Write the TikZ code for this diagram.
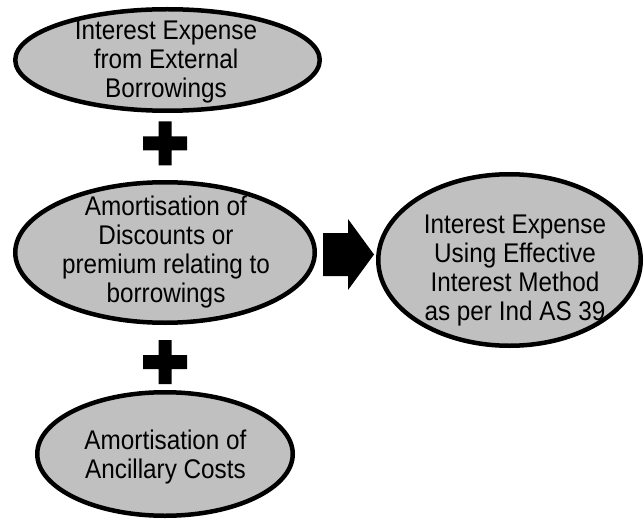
\documentclass[tikz,border=0pt]{standalone}
\usepackage{fontspec}
\setmainfont{Liberation Sans}[FakeStretch=0.9]
\usetikzlibrary{shapes.geometric}
\begin{document}
\begin{tikzpicture}[x=1pt,y=-1pt,
  oval/.style={ellipse, draw=black, line width=4.5pt, fill=ovalgray, inner sep=0pt},
  ovaltext/.style={align=center, inner sep=0pt, anchor=base, font=\fontsize{27}{29}\selectfont},
  plusmark/.style={fill=black},
  bigarrow/.style={fill=black}]
\definecolor{ovalgray}{RGB}{192,192,192}
\useasboundingbox (0,0) rectangle (644,521);
% ellipses
\node[oval, minimum width=304.5pt, minimum height=101.5pt] (e1) at (167.5,60) {};
\node[oval, minimum width=299.5pt, minimum height=140.5pt] (e2) at (165,252.5) {};
\node[oval, minimum width=262.5pt, minimum height=171.5pt] (e3) at (509.5,260) {};
\node[oval, minimum width=255.5pt, minimum height=123.5pt] (e4) at (165,454) {};
% texts
\node[ovaltext] (t1) at (166,97.5) {Interest Expense\\from External\\Borrowings};
\node[ovaltext] (t2) at (166,302) {Amortisation of\\Discounts or\\premium relating to\\borrowings};
\node[ovaltext] (t3) at (515,320) {Interest Expense\\Using Effective\\Interest Method\\as per Ind AS 39};
\node[ovaltext] (t4) at (165.5,478) {Amortisation of\\Ancillary Costs};
% plus signs
\coordinate (p1) at (165,143.5);
\coordinate (p2) at (165,362);
\foreach \p in {p1,p2}{
  \fill[plusmark] ([shift={(-6.5,-22)}]\p) -- ([shift={(6.5,-22)}]\p) -- ([shift={(6.5,-7)}]\p)
    -- ([shift={(22,-7)}]\p) -- ([shift={(22,7)}]\p) -- ([shift={(6.5,7)}]\p)
    -- ([shift={(6.5,22)}]\p) -- ([shift={(-6.5,22)}]\p) -- ([shift={(-6.5,7)}]\p)
    -- ([shift={(-22,7)}]\p) -- ([shift={(-22,-7)}]\p) -- ([shift={(-6.5,-7)}]\p) -- cycle;
}
% arrow
\coordinate (a0) at (323,254.5);
\fill[bigarrow] ([shift={(0,-21.5)}]a0) -- ([shift={(25,-21.5)}]a0) -- ([shift={(25,-35.5)}]a0)
  -- ([shift={(51,0)}]a0) -- ([shift={(25,35.5)}]a0) -- ([shift={(25,21.5)}]a0)
  -- ([shift={(0,21.5)}]a0) -- cycle;
\end{tikzpicture}
\end{document}
